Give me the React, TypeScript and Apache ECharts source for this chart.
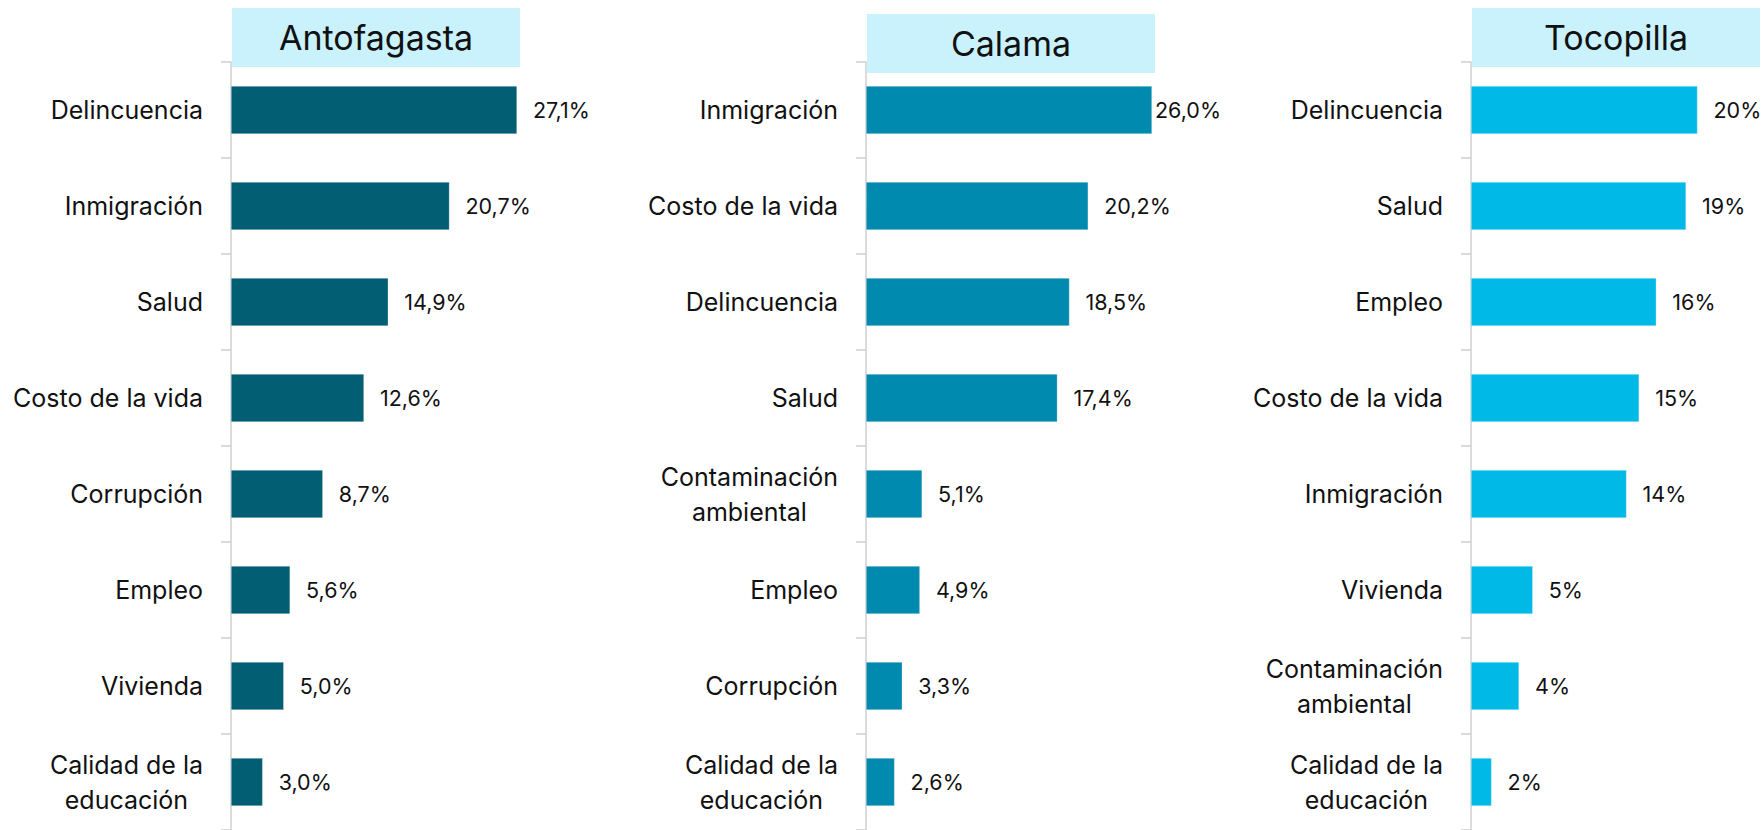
import React, { useEffect, useRef } from "react";
import * as echarts from "echarts";

const antTitle = "Antofagasta";
const antCategories = ["Delincuencia", "Inmigración", "Salud", "Costo de la vida", "Corrupción", "Empleo", "Vivienda", "Calidad de la\neducación"];
const antValues = [27.1, 20.7, 14.9, 12.6, 8.7, 5.6, 5.0, 3.0];

const calTitle = "Calama";
const calCategories = ["Inmigración", "Costo de la vida", "Delincuencia", "Salud", "Contaminación\nambiental", "Empleo", "Corrupción", "Calidad de la\neducación"];
const calValues = [26.0, 20.2, 18.5, 17.4, 5.1, 4.9, 3.3, 2.6];

const tocTitle = "Tocopilla";
const tocCategories = ["Delincuencia", "Salud", "Empleo", "Costo de la vida", "Inmigración", "Vivienda", "Contaminación\nambiental", "Calidad de la\neducación"];
const tocValues = [19.8, 18.8, 16.2, 14.7, 13.6, 5.4, 4.2, 1.8];

const FONT = "Inter, 'DejaVu Sans', sans-serif";
const TEXT = "#111111";
const AXIS = "#cfcfcf";
const TITLE_BG = "#C9F2FD";

const panels = [
  { title: antTitle, cats: antCategories, vals: antValues, color: "#025E73", left: 231, boxTop: 8, max: 27.1, fmt: (v: number) => v.toFixed(1).replace(".", ",") + "%", firstDist: 16 },
  { title: calTitle, cats: calCategories, vals: calValues, color: "#018AAF", left: 866, boxTop: 14, max: 26.0, fmt: (v: number) => v.toFixed(1).replace(".", ",") + "%", firstDist: 3 },
  { title: tocTitle, cats: tocCategories, vals: tocValues, color: "#00B9E7", left: 1471, boxTop: 8, max: 25, fmt: (v: number) => Math.round(v) + "%", firstDist: 16 },
];

const PLOT_W = 286;
const BOX_W = 288;
const BOX_H = 59;
const TOP = 62;
const HEIGHT = 769;

export default function App() {
  const ref = useRef<HTMLDivElement>(null);
  useEffect(() => {
    if (!ref.current) return;
    const chart = echarts.init(ref.current, null, { renderer: "svg" });
    const option: any = {
      animation: false,
      backgroundColor: "#ffffff",
      grid: panels.map((p) => ({ left: p.left, top: TOP, width: PLOT_W, height: HEIGHT, containLabel: false })),
      xAxis: panels.map((p, i) => ({
        type: "value",
        gridIndex: i,
        min: 0,
        max: p.max,
        show: false,
      })),
      yAxis: panels.map((p, i) => ({
        type: "category",
        gridIndex: i,
        inverse: true,
        data: p.cats,
        axisLine: { show: true, lineStyle: { color: AXIS, width: 1.5 } },
        axisTick: { show: true, length: 10, lineStyle: { color: AXIS, width: 1.5 } },
        splitLine: { show: false },
        axisLabel: {
          margin: 28,
          color: TEXT,
          fontFamily: FONT,
          fontSize: 25,
          lineHeight: 35,
          formatter: (val: string) => val.split("\n").map((l) => `{c|${l}}`).join("\n"),
          rich: { c: { align: "center", fontSize: 25, lineHeight: 35, fontFamily: FONT, color: TEXT } },
        },
      })),
      series: panels.map((p, i) => ({
        type: "bar",
        xAxisIndex: i,
        yAxisIndex: i,
        barCategoryGap: "50%",
        itemStyle: { color: p.color, borderColor: "rgba(255,255,255,0.6)", borderWidth: 0.5 },
        label: {
          show: true,
          position: "right",
          distance: 16,
          color: TEXT,
          fontFamily: FONT,
          fontSize: 21.5,
          formatter: (d: any) => p.fmt(d.value),
        },
        data: p.vals.map((v, j) => (j === 0 ? { value: v, label: { distance: p.firstDist } } : v)),
      })),
      graphic: panels.flatMap((p) => [
        { type: "rect", left: p.left + 1, top: p.boxTop, shape: { width: BOX_W, height: BOX_H }, style: { fill: TITLE_BG }, z: 10 },
        {
          type: "text",
          x: p.left + 1 + BOX_W / 2,
          y: p.boxTop + BOX_H / 2,
          style: { text: p.title, fill: TEXT, font: `34px ${FONT}`, textAlign: "center", textVerticalAlign: "middle" },
          z: 11,
        },
      ]),
    };
    chart.setOption(option);
    return () => chart.dispose();
  }, []);
  return <div ref={ref} style={{ position: "absolute", left: 0, top: 0, width: 1761, height: 830 }} />;
}
